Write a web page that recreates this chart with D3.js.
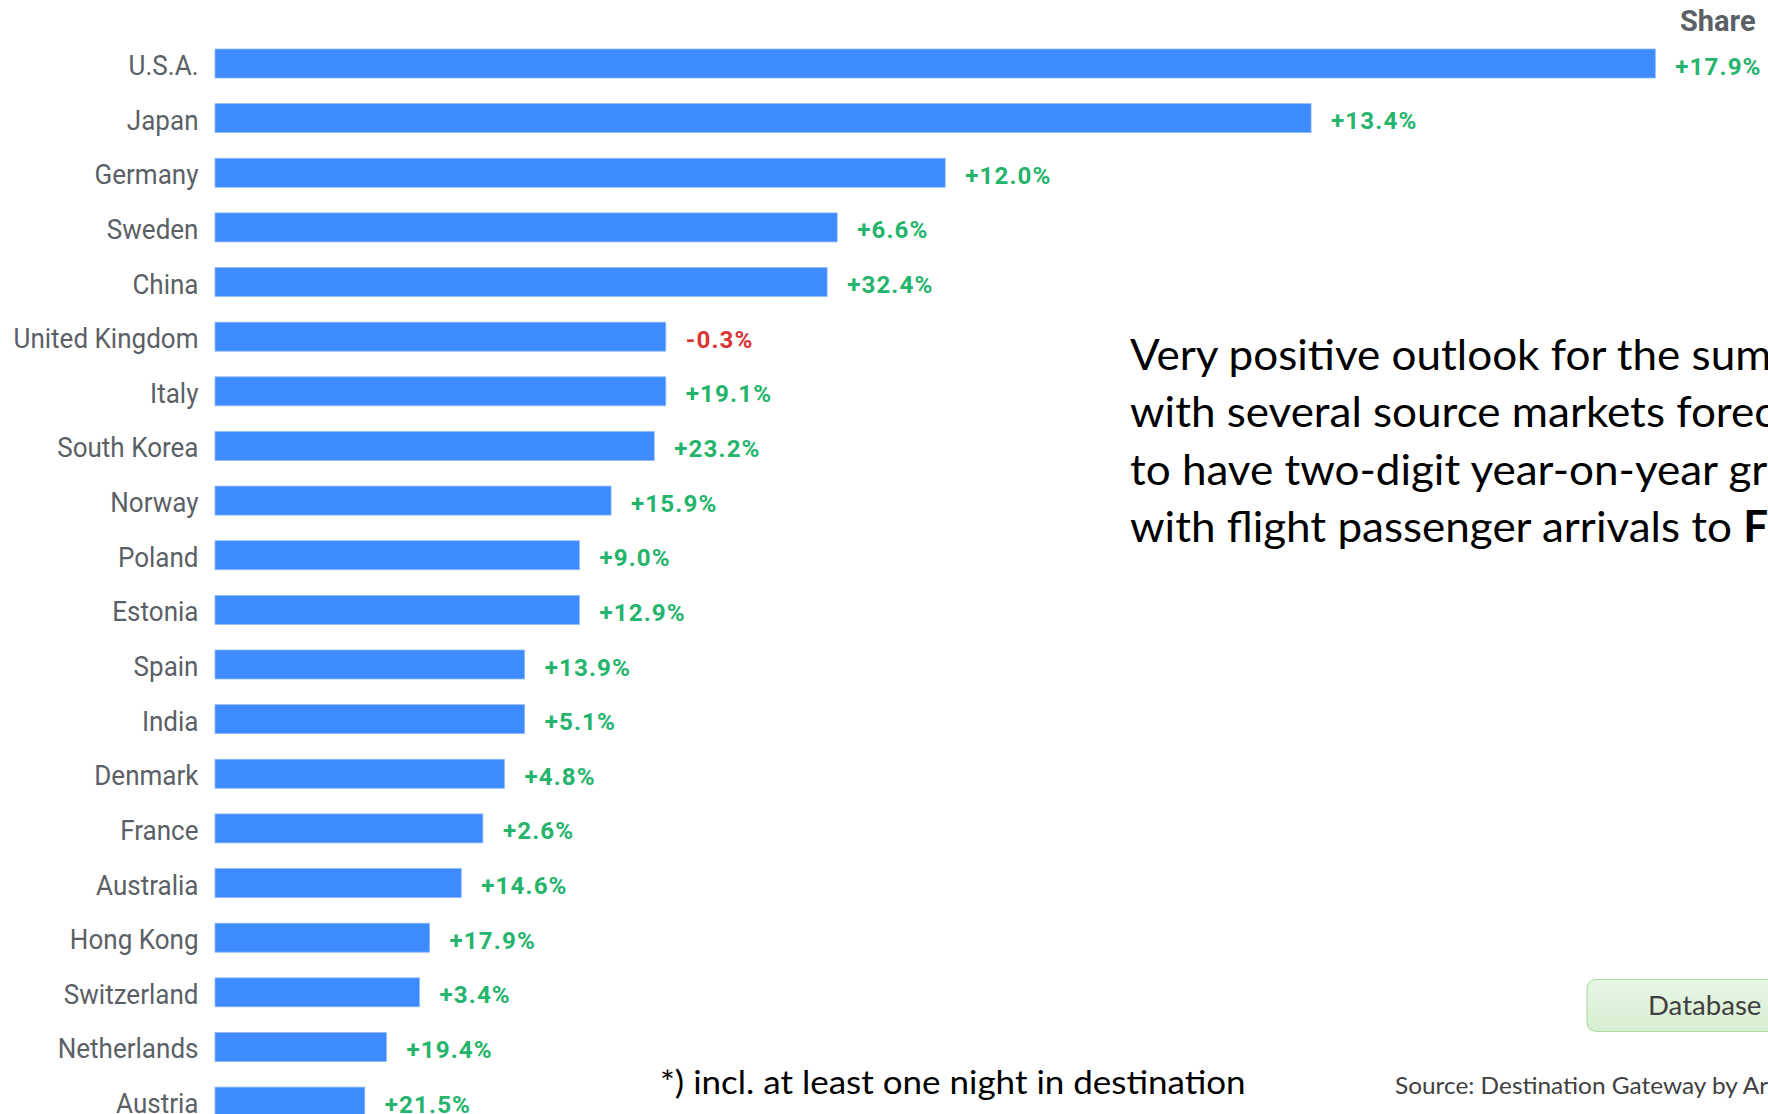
<!DOCTYPE html>
<html>
<head>
<meta charset="utf-8">
<script src="https://cdn.jsdelivr.net/npm/d3@7"></script>
<style>
  html, body { margin: 0; padding: 0; background: #ffffff; overflow: hidden; }
  svg { display: block; }
</style>
</head>
<body>
<svg id="chart" width="1768" height="1114"></svg>
<script>
// Source markets, ordered by volume of arrivals
const countries = [
  "U.S.A.", "Japan", "Germany", "Sweden", "China", "United Kingdom", "Italy",
  "South Korea", "Norway", "Poland", "Estonia", "Spain", "India", "Denmark",
  "France", "Australia", "Hong Kong", "Switzerland", "Netherlands", "Austria"
];

// Relative arrival volume (largest market = 100)
const arrivalsIndex = [
  100, 76.1, 50.7, 43.2, 42.5, 31.3, 31.3,
  30.5, 27.5, 25.3, 25.3, 21.5, 21.5, 20.1,
  18.6, 17.1, 14.9, 14.2, 11.9, 10.4
];

// Year-on-year change, %
const yoyChange = [
  17.9, 13.4, 12.0, 6.6, 32.4, -0.3, 19.1,
  23.2, 15.9, 9.0, 12.9, 13.9, 5.1, 4.8,
  2.6, 14.6, 17.9, 3.4, 19.4, 21.5
];

const summaryLines = [
  "Very positive outlook for the summer,",
  "with several source markets forecasted",
  "to have two-digit year-on-year growth",
  "with flight passenger arrivals to "
];
const summaryBold = "Finland";
const footnote = "*) incl. at least one night in destination";
const sourceNote = "Source: Destination Gateway by Ar";
const buttonText = "Database updated";
const columnHeader = "Share";

const W = 1768, H = 1114;
const svg = d3.select("#chart");

const barColor = "#3d8bff";
const labelGray = "#5b5f66";
const upColor = "#25b46c";
const downColor = "#d93636";

const x = d3.scaleLinear().domain([0, 100]).range([215, 1655.3]);
const y = d3.scalePoint().domain(countries).range([63.5, 1101.6]);
const barH = 29;

const rows = countries.map((c, i) => ({ c, v: arrivalsIndex[i], d: yoyChange[i] }));
const fmt = v => (v < 0 ? "-" : "+") + Math.abs(v).toFixed(1) + "%";

// bars
svg.append("g").selectAll("rect").data(rows).join("rect")
  .attr("x", x(0))
  .attr("y", d => y(d.c) - barH / 2)
  .attr("width", d => x(d.v) - x(0))
  .attr("height", barH)
  .attr("fill", barColor)
  .attr("stroke", "#8fbaff")
  .attr("stroke-width", 0.8);

// country names (condensed)
svg.append("g").selectAll("text").data(rows).join("text")
  .attr("transform", d => `translate(198.5,${y(d.c) + 11.5}) scale(0.93,1)`)
  .attr("text-anchor", "end")
  .attr("font-family", "Roboto, sans-serif")
  .attr("font-size", 28)
  .attr("fill", labelGray)
  .text(d => d.c);

// year-on-year change labels
svg.append("g").selectAll("text").data(rows).join("text")
  .attr("x", d => x(d.v) + 20)
  .attr("y", d => y(d.c) + 11)
  .attr("font-family", "Roboto, sans-serif")
  .attr("font-weight", 700)
  .attr("font-size", 24.2)
  .attr("letter-spacing", 1.1)
  .attr("fill", d => d.d < 0 ? downColor : upColor)
  .text(d => fmt(d.d));

// column header
svg.append("text")
  .attr("x", 1680).attr("y", 31)
  .attr("font-family", "Roboto, sans-serif")
  .attr("font-weight", 700)
  .attr("font-size", 29)
  .attr("fill", labelGray)
  .text(columnHeader);

// narrow humanist text style for the commentary
const bodyFont = "Lato, 'Open Sans', sans-serif";

const foot = svg.append("text")
  .attr("x", 660).attr("y", 1094)
  .attr("font-family", bodyFont)
  .attr("font-size", 33)
  .attr("fill", "#000")
  .text(footnote);
const footNatural = foot.node().getComputedTextLength();
const condense = 586 / footNatural;
foot.attr("transform", `translate(660,0) scale(${condense},1) translate(-660,0)`);

const para = svg.append("g")
  .attr("transform", `translate(1130,0) scale(${condense * 0.965},1)`);
summaryLines.forEach((line, i) => {
  const t = para.append("text")
    .attr("x", 0)
    .attr("y", 370 + i * 57.5)
    .attr("font-family", bodyFont)
    .attr("font-size", 43)
    .attr("fill", "#000")
    .text(line);
  if (i === summaryLines.length - 1) {
    t.append("tspan").attr("font-weight", 700).text(summaryBold);
  }
});

// database button
const defs = svg.append("defs");
const grad = defs.append("linearGradient").attr("id", "btnGrad")
  .attr("x1", 0).attr("y1", 0).attr("x2", 0).attr("y2", 1);
grad.append("stop").attr("offset", "0%").attr("stop-color", "#e8f6e6");
grad.append("stop").attr("offset", "100%").attr("stop-color", "#d6efd1");
svg.append("rect")
  .attr("x", 1587).attr("y", 979.5)
  .attr("width", 320).attr("height", 52)
  .attr("rx", 9)
  .attr("fill", "url(#btnGrad)")
  .attr("stroke", "#aedca6")
  .attr("stroke-width", 1.2);
svg.append("text")
  .attr("transform", `translate(1648,1015) scale(${condense},1)`)
  .attr("font-family", bodyFont)
  .attr("font-size", 26)
  .attr("fill", "#404040")
  .text(buttonText);

// source note
svg.append("text")
  .attr("transform", `translate(1395,1094) scale(${condense},1)`)
  .attr("font-family", bodyFont)
  .attr("font-size", 23)
  .attr("fill", "#404040")
  .text(sourceNote);
</script>
</body>
</html>
